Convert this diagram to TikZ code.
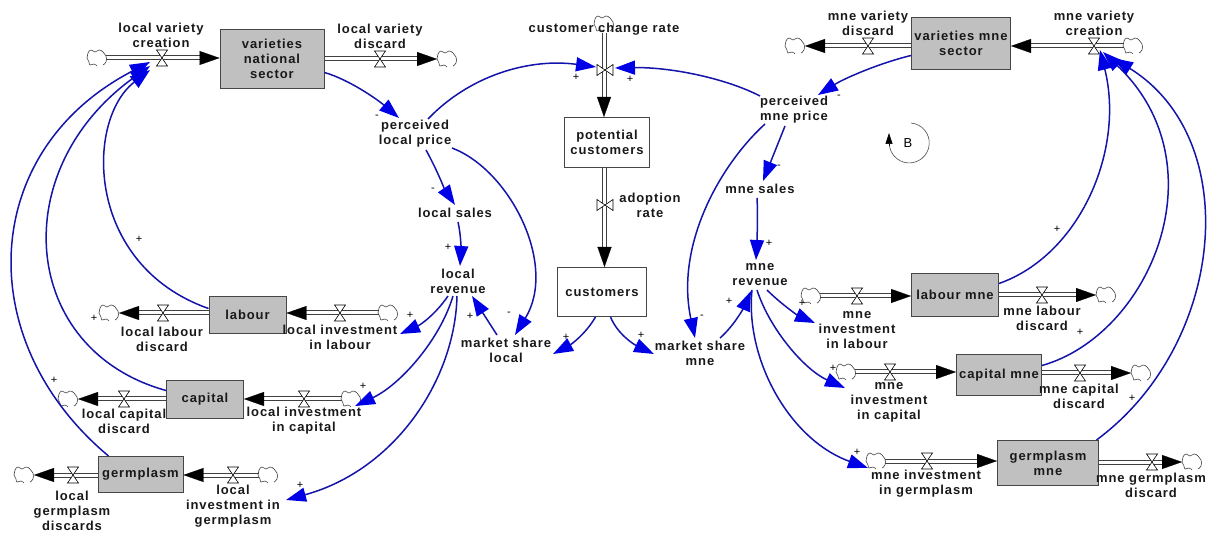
\documentclass[tikz,border=0pt]{standalone}
\usepackage{fontspec}
\setmainfont{Liberation Sans}[LetterSpace=7]
\newfontfamily\signfont{Liberation Sans}
\usetikzlibrary{arrows.meta,calc}
\definecolor{linkblue}{RGB}{20,20,170}
\definecolor{tipblue}{RGB}{0,0,230}
\definecolor{stockgrey}{RGB}{192,192,192}
\definecolor{edgegrey}{RGB}{70,70,70}
\tikzset{
  lab/.style={font=\fontsize{13}{15}\selectfont\bfseries,align=center,inner sep=0pt,text=black!90},
  stock/.style={lab,draw=edgegrey,line width=1pt,fill=stockgrey,anchor=north west},
  whitestock/.style={lab,draw=edgegrey,line width=1pt,fill=white,anchor=north west},
  sgn/.style={font=\signfont\fontsize{11}{11}\selectfont,inner sep=0pt},
  causal/.style={draw=linkblue,line width=1.5pt,-{Triangle[length=20pt,width=14pt,color=tipblue,fill=tipblue]}},
  pipe/.style={double=white,draw=black!75,line width=1pt,double distance=3pt},
  pipetip/.style={draw=white,line width=.2pt,-{Triangle[length=20pt,width=14pt,color=black,fill=black]}},
  valve/.pic={\draw[black,line width=.6pt,fill=white] (-5.5,-8) -- (5.5,-8) -- (-5.5,8) -- (5.5,8) -- cycle;},
  cloud/.pic={\draw[black!75,line width=.6pt] plot[smooth,tension=.8] coordinates {(6,7) (9,4) (9,-2) (6,-6) (2,-8) (-2,-6) (-6,-8) (-9,-5) (-10,0) (-8,4) (-7,7) (-3,6) (0,8)};},
  loopline/.style={draw=black!70,line width=.6pt},
  looptip/.style={draw=black,line width=.6pt,-{Triangle[length=11pt,width=7pt,color=black,fill=black]}}
}
\newcommand\flowin[2]{\draw[pipe,shorten <=9pt,shorten >=12pt] #1 -- #2; \draw[pipetip,shorten <=9pt] #1 -- #2;}
\newcommand\flowout[2]{\draw[pipe,shorten >=22pt] #1 -- #2; \draw[pipetip,shorten >=10pt] #1 -- #2;}
\begin{document}
\begin{tikzpicture}[x=1pt,y=-1pt]
\fill[white] (0,0) rectangle (1210,534);
\useasboundingbox (0,0) rectangle (1210,534);

% stocks
\node[stock,minimum width=104pt,minimum height=59pt] (vns) at (219.5,29) {varieties\\national\\sector};
\node[stock,minimum width=99pt,minimum height=52pt] (vms) at (911,17) {varieties mne\\sector};
\node[whitestock,minimum width=85pt,minimum height=50pt] (pc) at (564,117) {potential\\customers};
\node[whitestock,minimum width=89pt,minimum height=49pt] (cust) at (557,267) {customers};
\node[stock,minimum width=77pt,minimum height=37pt] (lab) at (208.5,296) {labour};
\node[stock,minimum width=77pt,minimum height=38pt] (cap) at (166,380) {capital};
\node[stock,minimum width=85pt,minimum height=36pt] (germ) at (97.5,456) {germplasm};
\node[stock,minimum width=87pt,minimum height=43pt] (labm) at (911,273) {labour mne};
\node[stock,minimum width=85pt,minimum height=41pt] (capm) at (956,354) {capital mne};
\node[stock,minimum width=101pt,minimum height=45pt] (germm) at (997,440) {germplasm\\mne};

% clouds and valves
\foreach \n/\x/\y in {c1/97/58,c2/447/59,c3/604/24,c4/795/46,c5/1133/46,
  c6/388/313,c7/109/313,c8/351/399,c9/68/399,c10/268/475,c11/24/475,
  c12/811/296,c13/1106/295,c14/846/372,c15/1141/373,c16/876/461,c17/1192/462}
  \coordinate (\n) at (\x,\y);
\foreach \n/\x/\y in {v1/162/58,v2/380/59,v5/868/46,v6/1094/46,
  v7/340/313,v8/163/313,v9/304/399,v10/124/399,v11/233/475,v12/73/475,
  v13/857/296,v14/1042/295,v15/890/372,v16/1080/373,v17/927/461,v18/1152/462}
  \coordinate (\n) at (\x,\y);
\coordinate (v3) at (605,70);
\coordinate (v4) at (605,205);

% flows
\flowin{(c1)}{(c1 -| vns.west)}
\flowout{(c2 -| vns.east)}{(c2)}
\flowin{(c3)}{(c3 |- pc.north)}
\draw[pipe] ($(pc.south)+(-2.5,0)$) -- ($(cust.north)+(2.5,-10)$);
\draw[pipetip] ($(pc.south)+(-2.5,0)$) -- ($(cust.north)+(2.5,0)$);
\flowout{(c4 -| vms.west)}{(c4)}
\flowin{(c5)}{(c5 -| vms.east)}
\flowin{(c6)}{(c6 -| lab.east)}
\flowout{(c7 -| lab.west)}{(c7)}
\flowin{(c8)}{(c8 -| cap.east)}
\flowout{(c9 -| cap.west)}{(c9)}
\flowin{(c10)}{(c10 -| germ.east)}
\flowout{(c11 -| germ.west)}{(c11)}
\flowin{(c12)}{(c12 -| labm.west)}
\flowout{(c13 -| labm.east)}{(c13)}
\flowin{(c14)}{(c14 -| capm.west)}
\flowout{(c15 -| capm.east)}{(c15)}
\flowin{(c16)}{(c16 -| germm.west)}
\flowout{(c17 -| germm.east)}{(c17)}

\foreach \n in {c1,c2,c3,c4,c5,c6,c7,c8,c9,c10,c11,c12,c13,c14,c15,c16,c17} \pic at (\n) {cloud};
\foreach \n in {v1,v2,v5,v6,v7,v8,v9,v10,v11,v12,v13,v14,v15,v16,v17,v18} \pic at (\n) {valve};
\pic[rotate=90] at (v3) {valve};
\pic[rotate=90] at (v4) {valve};

% labels
\node[lab] (lvc) at (161,35) {local variety\\creation};
\node[lab] (lvd) at (380,36) {local variety\\discard};
\node[lab] (mvd) at (868,23) {mne variety\\discard};
\node[lab] (mvc) at (1094,23) {mne variety\\creation};
\node[lab] (ccr) at (604,29) {customer change rate};
\node[lab] (adr) at (650,205) {adoption\\rate};
\node[lab] (plp) at (415,134) {perceived\\local price};
\node[lab] (pmp) at (794,110) {perceived\\mne price};
\node[lab] (ls) at (455,213) {local sales};
\node[lab] (ms) at (760,189) {mne sales};
\node[lab] (lr) at (458,281) {local\\revenue};
\node[lab] (mr) at (760,275) {mne\\revenue};
\node[lab] (msl) at (506,350) {market share\\local};
\node[lab] (msm) at (700,353) {market share\\mne};
\node[lab] (lld) at (162,339) {local labour\\discard};
\node[lab] (lil) at (340,337) {local investment\\in labour};
\node[lab] (lcd) at (124,421) {local capital\\discard};
\node[lab] (lic) at (304,421) {local investment\\in capital};
\node[lab] (lgd) at (72,511) {local\\germplasm\\discards};
\node[lab] (lig) at (233,506) {local\\investment in\\germplasm};
\node[lab] (mil) at (857,330) {mne\\investment\\in labour};
\node[lab] (mld) at (1042,318) {mne labour\\discard};
\node[lab] (mic) at (889,402) {mne\\investment\\in capital};
\node[lab] (mcd) at (1079,396) {mne capital\\discard};
\node[lab] (mig) at (926,484) {mne investment\\in germplasm};
\node[lab] (mgd) at (1151,485) {mne germplasm\\discard};

% causal links
\draw[causal] ($(vns.east)+(0,13.5)$) .. controls (350,80) and (378,100) .. ($(plp)+(-16,-16)$);
\draw[causal] ($(plp)+(13,-15)$) .. controls (470,75) and (530,58) .. ($(v3)+(-9,-3)$);
\draw[causal] ($(pmp)+(-34,-14)$) .. controls (725,78) and (670,67) .. ($(v3)+(10,-2)$);
\draw[causal] ($(vms.west)+(0,12)$) .. controls (880,63) and (845,78) .. ($(pmp)+(24,-15)$);
\draw[causal] ($(pmp)+(-9,16)$) -- ($(ms)+(3,-8)$);
\draw[causal] ($(ms)+(-3,9)$) .. controls (758,215) and (757,240) .. ($(mr)+(-4,-15)$);
\draw[causal] ($(pmp)+(-29,14)$) .. controls (720,165) and (675,245) .. ($(msm)+(-5,-15)$);
\draw[causal] ($(plp)+(37,14)$) .. controls (510,170) and (558,265) .. ($(msl)+(9,-15)$);
\draw[causal] ($(plp)+(11,16)$) .. controls (437,170) and (445,190) .. ($(ls)+(0,-8)$);
\draw[causal] ($(ls)+(3,9)$) .. controls (461,235) and (461,250) .. ($(lr)+(2,-15)$);
\draw[causal] ($(msl)+(-9,-15)$) -- ($(lr)+(14,15)$);
\draw[causal] ($(cust.south)+(-6.5,0)$) .. controls (585,335) and (570,345) .. ($(msl)+(47,4)$);
\draw[causal] ($(cust.south)+(8.5,0)$) .. controls (618,335) and (635,345) .. ($(msm)+(-46,1)$);
\draw[causal] ($(msm)+(20,-15)$) .. controls (735,325) and (745,305) .. ($(mr)+(-9,16)$);
\draw[causal] ($(lr)+(-10,15)$) .. controls (435,315) and (420,325) .. ($(lil)+(60,-3)$);
\draw[causal] ($(lr)+(-5,15)$) .. controls (440,340) and (400,385) .. ($(lic)+(51,-15)$);
\draw[causal] ($(lr)+(-1,15)$) .. controls (455,380) and (395,470) .. ($(lig)+(53,-6)$);
\draw[causal] ($(lab.west)+(0,-6.5)$) .. controls (85,265) and (85,120) .. ($(v1)+(-12,12)$);
\draw[causal] ($(cap.west)+(0,-9)$) .. controls (20,350) and (5,170) .. ($(v1)+(-12,8)$);
\draw[causal] ($(germ.north)+(-32,0)$) .. controls (-30,340) and (-20,150) .. ($(v1)+(-12,4)$);
\draw[causal] ($(labm.east)+(0,-11.5)$) .. controls (1080,255) and (1125,150) .. ($(v6)+(6,4)$);
\draw[causal] ($(capm.east)+(0,-9.5)$) .. controls (1150,335) and (1222,165) .. ($(v6)+(9,6)$);
\draw[causal] ($(germm.north)+(48.5,0)$) .. controls (1225,345) and (1245,140) .. ($(v6)+(19,12)$);
\draw[causal] ($(mr)+(7,15)$) .. controls (780,303) and (797,315) .. ($(mil)+(-42,-7)$);
\draw[causal] ($(mr)+(-3,15)$) .. controls (770,330) and (805,370) .. ($(mic)+(-44,-14)$);
\draw[causal] ($(mr)+(-8,15)$) .. controls (745,360) and (790,440) .. ($(mig)+(-58,-16)$);

% polarity signs
\foreach \n/\x/\y in {p1/576/77,p2/630/79,p3/769/243,p4/448/247,p5/410/315,p6/470/316,p7/566/337,p8/641/335,
  p9/729/301,p10/802/303,p11/833/368,p12/857/452,p13/1080/332,p14/1132/398,p15/1057/229,p16/139/239,
  p17/94/318,p18/54/380,p19/363/386,p20/300/485}
  \node[sgn] (\n) at (\x,\y) {+};
\foreach \n/\x/\y in {m1/377/117,m2/839/97,m3/433/190,m4/779/167,m5/509/314,m6/702/317}
  \node[sgn] (\n) at (\x,\y) {-};

% loop marker
\node[font=\signfont\fontsize{13}{13}\selectfont,inner sep=0pt] (loopB) at (908,143) {B};
\draw[loopline] ($(loopB)+(3,-20)$) arc[start angle=85,end angle=-180,radius=20pt];
\draw[looptip] ($(loopB)+(-19,3)$) -- ($(loopB)+(-19,-10)$);
\end{tikzpicture}
\end{document}
